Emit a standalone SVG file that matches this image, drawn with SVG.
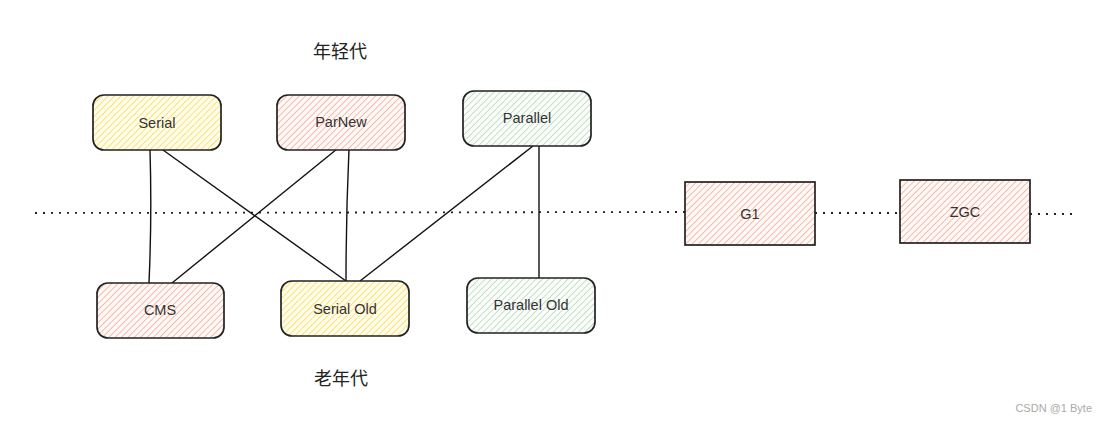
<svg xmlns="http://www.w3.org/2000/svg" width="1106" height="423" viewBox="0 0 1106 423">
<defs>
<pattern id="hy" width="4.5" height="4.5" patternUnits="userSpaceOnUse" patternTransform="rotate(45)"><rect width="4.5" height="4.5" fill="#fffdf0"/><line x1="0" y1="0" x2="0" y2="4.5" stroke="#ffd93d" stroke-width="1.5"/></pattern>
<pattern id="hr" width="4.5" height="4.5" patternUnits="userSpaceOnUse" patternTransform="rotate(45)"><rect width="4.5" height="4.5" fill="#fffaf8"/><line x1="0" y1="0" x2="0" y2="4.5" stroke="#f7a58f" stroke-width="1.5"/></pattern>
<pattern id="hg" width="4.5" height="4.5" patternUnits="userSpaceOnUse" patternTransform="rotate(45)"><rect width="4.5" height="4.5" fill="#fbfdfb"/><line x1="0" y1="0" x2="0" y2="4.5" stroke="#b3d8b6" stroke-width="1.5"/></pattern>
</defs>
<style>
.box{stroke:#222;stroke-width:1.7}
.lbl{font-family:"Liberation Sans",Arial,sans-serif;font-size:14.5px;fill:#333;text-anchor:middle;dominant-baseline:central}
.cjk{font-family:"Noto Sans CJK SC","Liberation Sans",sans-serif;font-size:18px;fill:#222;text-anchor:middle;dominant-baseline:central}
.conn{stroke:#111;stroke-width:1.4;fill:none}
.dot{stroke:#222;stroke-width:1.8;stroke-dasharray:2 6;fill:none}
</style>
<rect width="1106" height="423" fill="#ffffff"/>
<g id="connectors">
<path class="dot" d="M35 213 L685 212"/>
<path class="dot" d="M815 213 L900 213"/>
<path class="dot" d="M1030 214 L1076 214"/>
<path class="conn" d="M150 150 Q152 216 149 283"/>
<path class="conn" d="M163 150 L346 281"/>
<path class="conn" d="M337 149 L172 283"/>
<path class="conn" d="M349 149 Q346 215 346 281"/>
<path class="conn" d="M533 146 L360 281"/>
<path class="conn" d="M539 146 L539 278"/>
</g>
<g id="title-young"><text class="cjk" x="340" y="50">年轻代</text></g>
<g id="title-old"><text class="cjk" x="341" y="377">老年代</text></g>
<g id="serial"><rect class="box" x="93" y="95" width="128" height="55" rx="11" fill="url(#hy)"/><text class="lbl" x="157" y="123">Serial</text></g>
<g id="parnew"><rect class="box" x="277" y="95" width="128" height="55" rx="11" fill="url(#hr)"/><text class="lbl" x="341" y="122">ParNew</text></g>
<g id="parallel"><rect class="box" x="463" y="91" width="128" height="55" rx="11" fill="url(#hg)"/><text class="lbl" x="527" y="118">Parallel</text></g>
<g id="cms"><rect class="box" x="97" y="283" width="127" height="55" rx="11" fill="url(#hr)"/><text class="lbl" x="160" y="310">CMS</text></g>
<g id="serialold"><rect class="box" x="281" y="281" width="128" height="55" rx="11" fill="url(#hy)"/><text class="lbl" x="345" y="309">Serial Old</text></g>
<g id="parallelold"><rect class="box" x="467" y="278" width="128" height="55" rx="11" fill="url(#hg)"/><text class="lbl" x="531" y="305">Parallel Old</text></g>
<g id="g1"><rect class="box" x="685" y="182" width="130" height="63" fill="url(#hr)"/><text class="lbl" x="750" y="214">G1</text></g>
<g id="zgc"><rect class="box" x="900" y="180" width="130" height="63" fill="url(#hr)"/><text class="lbl" x="965" y="212">ZGC</text></g>
<g id="watermark"><text x="1092" y="408" font-family="Liberation Sans,Arial,sans-serif" font-size="11" fill="#aaaaaa" text-anchor="end" dominant-baseline="central">CSDN @1 Byte</text></g>
</svg>
